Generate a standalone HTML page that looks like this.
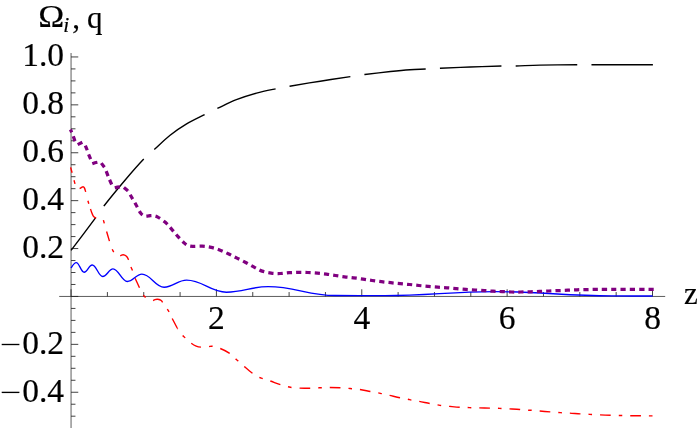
<!DOCTYPE html>
<html><head><meta charset="utf-8"><title>plot</title>
<style>
html,body{margin:0;padding:0;background:#fff;}
body{width:698px;height:428px;overflow:hidden;}
svg{display:block;}
text{font-family:"Liberation Serif",serif;fill:#000;}
</style></head><body>
<svg width="698" height="428" viewBox="0 0 698 428">
<rect width="698" height="428" fill="#fff"/>
<g stroke="#333" stroke-width="0.8" fill="none">
<line x1="71.06" y1="53" x2="71.06" y2="428"/>
<line x1="59.2" y1="296.45" x2="665.2" y2="296.45"/>
</g>
<g stroke="#222" stroke-width="0.85" fill="none"><line x1="71.06" y1="416.20" x2="75.46" y2="416.20"/><line x1="71.06" y1="404.23" x2="75.46" y2="404.23"/><line x1="71.06" y1="392.25" x2="78.26" y2="392.25"/><line x1="71.06" y1="380.27" x2="75.46" y2="380.27"/><line x1="71.06" y1="368.30" x2="75.46" y2="368.30"/><line x1="71.06" y1="356.32" x2="75.46" y2="356.32"/><line x1="71.06" y1="344.35" x2="78.26" y2="344.35"/><line x1="71.06" y1="332.38" x2="75.46" y2="332.38"/><line x1="71.06" y1="320.40" x2="75.46" y2="320.40"/><line x1="71.06" y1="308.43" x2="75.46" y2="308.43"/><line x1="71.06" y1="296.45" x2="78.26" y2="296.45"/><line x1="71.06" y1="284.47" x2="75.46" y2="284.47"/><line x1="71.06" y1="272.50" x2="75.46" y2="272.50"/><line x1="71.06" y1="260.52" x2="75.46" y2="260.52"/><line x1="71.06" y1="248.55" x2="78.26" y2="248.55"/><line x1="71.06" y1="236.57" x2="75.46" y2="236.57"/><line x1="71.06" y1="224.60" x2="75.46" y2="224.60"/><line x1="71.06" y1="212.62" x2="75.46" y2="212.62"/><line x1="71.06" y1="200.65" x2="78.26" y2="200.65"/><line x1="71.06" y1="188.67" x2="75.46" y2="188.67"/><line x1="71.06" y1="176.70" x2="75.46" y2="176.70"/><line x1="71.06" y1="164.72" x2="75.46" y2="164.72"/><line x1="71.06" y1="152.75" x2="78.26" y2="152.75"/><line x1="71.06" y1="140.77" x2="75.46" y2="140.77"/><line x1="71.06" y1="128.80" x2="75.46" y2="128.80"/><line x1="71.06" y1="116.82" x2="75.46" y2="116.82"/><line x1="71.06" y1="104.85" x2="78.26" y2="104.85"/><line x1="71.06" y1="92.87" x2="75.46" y2="92.87"/><line x1="71.06" y1="80.90" x2="75.46" y2="80.90"/><line x1="71.06" y1="68.92" x2="75.46" y2="68.92"/><line x1="71.06" y1="56.95" x2="78.26" y2="56.95"/><line x1="71.06" y1="296.45" x2="71.06" y2="289.25"/><line x1="107.40" y1="296.45" x2="107.40" y2="292.05"/><line x1="143.74" y1="296.45" x2="143.74" y2="292.05"/><line x1="180.08" y1="296.45" x2="180.08" y2="292.05"/><line x1="216.42" y1="296.45" x2="216.42" y2="289.25"/><line x1="252.76" y1="296.45" x2="252.76" y2="292.05"/><line x1="289.10" y1="296.45" x2="289.10" y2="292.05"/><line x1="325.44" y1="296.45" x2="325.44" y2="292.05"/><line x1="361.78" y1="296.45" x2="361.78" y2="289.25"/><line x1="398.12" y1="296.45" x2="398.12" y2="292.05"/><line x1="434.46" y1="296.45" x2="434.46" y2="292.05"/><line x1="470.80" y1="296.45" x2="470.80" y2="292.05"/><line x1="507.14" y1="296.45" x2="507.14" y2="289.25"/><line x1="543.48" y1="296.45" x2="543.48" y2="292.05"/><line x1="579.82" y1="296.45" x2="579.82" y2="292.05"/><line x1="616.16" y1="296.45" x2="616.16" y2="292.05"/><line x1="652.50" y1="296.45" x2="652.50" y2="289.25"/></g>
<path d="M71.06 250.40 C75.17 244.95 90.16 225.18 95.70 217.70 C101.24 210.22 99.38 211.78 104.30 205.50 C109.22 199.22 118.60 187.77 125.20 180.00 C131.80 172.23 139.02 164.02 143.90 158.90 C148.78 153.78 150.13 153.23 154.50 149.30 C158.87 145.37 164.82 139.48 170.10 135.30 C175.38 131.12 180.43 127.65 186.20 124.20 C191.97 120.75 199.42 117.27 204.70 114.60 C209.98 111.93 212.62 110.68 217.90 108.20 C223.18 105.72 229.97 102.22 236.40 99.70 C242.83 97.18 249.87 94.93 256.50 93.10 C263.13 91.27 270.67 89.85 276.20 88.70 C281.73 87.55 282.37 87.45 289.70 86.20 C297.03 84.95 310.03 82.80 320.20 81.20 C330.37 79.60 343.27 77.72 350.70 76.60 C358.13 75.48 358.17 75.35 364.80 74.50 C371.43 73.65 382.97 72.30 390.50 71.50 C398.03 70.70 404.07 70.12 410.00 69.70 C415.93 69.28 421.07 69.25 426.10 69.00 C431.13 68.75 432.83 68.53 440.20 68.20 C447.57 67.87 460.10 67.37 470.30 67.00 C480.50 66.63 493.80 66.17 501.40 66.00 C509.00 65.83 509.47 66.15 515.90 66.00 C522.33 65.85 529.72 65.32 540.00 65.10 C550.28 64.88 569.05 64.77 577.60 64.70 C586.15 64.63 578.75 64.70 591.30 64.70 C603.85 64.70 642.63 64.70 652.90 64.70" fill="none" stroke="#000" stroke-width="1.4" stroke-dasharray="61.5 14.3" stroke-dashoffset="20.5"/>
<path d="M177.20 328.30 C178.07 329.45 181.08 333.63 182.40 335.20 C183.72 336.77 183.65 336.38 185.10 337.70 C186.55 339.02 189.25 341.70 191.10 343.10 C192.95 344.50 194.52 345.43 196.20 346.10 C197.88 346.77 199.20 347.00 201.20 347.10 C203.20 347.20 206.30 346.83 208.20 346.70 C210.10 346.57 210.58 346.00 212.60 346.30 C214.62 346.60 217.52 347.37 220.30 348.50 C223.08 349.63 226.80 351.42 229.30 353.10 C231.80 354.78 233.87 357.32 235.30 358.60 C236.73 359.88 236.38 359.47 237.90 360.80 C239.42 362.13 241.98 364.53 244.40 366.60 C246.82 368.67 250.00 371.43 252.40 373.20 C254.80 374.97 257.07 376.30 258.80 377.20 C260.53 378.10 260.92 377.98 262.80 378.60 C264.68 379.22 267.15 379.88 270.10 380.90 C273.05 381.92 277.50 383.73 280.50 384.70 C283.50 385.67 286.18 386.23 288.10 386.70 C290.02 387.17 290.10 387.27 292.00 387.50 C293.90 387.73 296.48 387.97 299.50 388.10 C302.52 388.23 307.00 388.33 310.10 388.30 C313.20 388.27 316.17 388.00 318.10 387.90 C320.03 387.80 319.77 387.77 321.70 387.70 C323.63 387.63 326.62 387.50 329.70 387.50 C332.78 387.50 337.12 387.57 340.20 387.70 C343.28 387.83 346.27 388.13 348.20 388.30 C350.13 388.47 349.87 388.50 351.80 388.70 C353.73 388.90 356.72 389.03 359.80 389.50 C362.88 389.97 367.22 390.93 370.30 391.50 C373.38 392.07 376.37 392.53 378.30 392.90 C380.23 393.27 380.07 393.30 381.90 393.70 C383.73 394.10 386.30 394.63 389.30 395.30 C392.30 395.97 396.78 397.03 399.90 397.70 C403.02 398.37 406.08 398.90 408.00 399.30 C409.92 399.70 409.53 399.75 411.40 400.10 C413.27 400.45 416.15 400.83 419.20 401.40 C422.25 401.97 426.65 402.92 429.70 403.50 C432.75 404.08 435.60 404.57 437.50 404.90 C439.40 405.23 439.17 405.27 441.10 405.50 C443.03 405.73 445.98 406.00 449.10 406.30 C452.22 406.60 456.72 407.10 459.80 407.30 C462.88 407.50 465.70 407.43 467.60 407.50 C469.50 407.57 469.27 407.63 471.20 407.70 C473.13 407.77 476.12 407.83 479.20 407.90 C482.28 407.97 486.62 408.03 489.70 408.10 C492.78 408.17 495.77 408.23 497.70 408.30 C499.63 408.37 499.37 408.40 501.30 408.50 C503.23 408.60 506.20 408.73 509.30 408.90 C512.40 409.07 516.80 409.28 519.90 409.50 C523.00 409.72 525.98 410.07 527.90 410.20 C529.82 410.33 529.47 410.17 531.40 410.30 C533.33 410.43 536.38 410.73 539.50 411.00 C542.62 411.27 547.00 411.65 550.10 411.90 C553.20 412.15 556.17 412.37 558.10 412.50 C560.03 412.63 559.77 412.60 561.70 412.70 C563.63 412.80 566.62 412.90 569.70 413.10 C572.78 413.30 577.12 413.70 580.20 413.90 C583.28 414.10 586.27 414.20 588.20 414.30 C590.13 414.40 589.80 414.40 591.80 414.50 C593.80 414.60 597.05 414.77 600.20 414.90 C603.35 415.03 607.68 415.20 610.70 415.30 C613.72 415.40 616.43 415.47 618.30 415.50 C620.17 415.53 619.97 415.47 621.90 415.50 C623.83 415.53 626.77 415.67 629.90 415.70 C633.03 415.73 637.55 415.67 640.70 415.70 C643.85 415.73 646.83 415.87 648.80 415.90 C650.77 415.93 651.88 415.90 652.50 415.90" fill="none" stroke="#ff0000" stroke-width="1.4" stroke-dasharray="10.65 7.95 3.7 7.95" stroke-dashoffset="9.68"/>
<path d="M70.60 167.40 L72.10 172.80 M74.00 180.20 L75.00 183.90 M79.60 188.50 C79.77 188.43 80.20 188.33 80.60 188.10 C81.00 187.87 81.55 187.32 82.00 187.10 C82.45 186.88 82.88 186.63 83.30 186.80 C83.72 186.97 84.10 187.25 84.50 188.10 C84.90 188.95 85.50 191.27 85.70 191.90 M87.90 200.70 L88.80 203.70 M90.50 209.10 C90.67 209.57 91.03 210.73 91.50 211.90 C91.97 213.07 92.53 215.03 93.30 216.10 C94.07 217.17 95.63 217.93 96.10 218.30 M103.40 220.10 L104.30 223.40 M106.60 231.50 L109.45 241.10 M112.20 249.20 L113.70 252.10 M120.20 255.90 C120.43 255.77 121.12 255.28 121.60 255.10 C122.08 254.92 122.58 254.80 123.10 254.80 C123.62 254.80 124.20 254.90 124.70 255.10 C125.20 255.30 125.63 255.58 126.10 256.00 C126.57 256.42 127.08 256.95 127.50 257.60 C127.92 258.25 128.42 259.52 128.60 259.90 M130.90 267.00 L132.50 270.50 M135.10 278.30 L139.50 287.70 M143.30 295.20 L145.60 297.50 M153.10 300.60 C153.42 300.45 154.33 299.92 155.00 299.70 C155.67 299.48 156.43 299.33 157.10 299.30 C157.77 299.27 158.42 299.35 159.00 299.50 C159.58 299.65 160.15 299.93 160.60 300.20 C161.05 300.47 161.37 300.75 161.70 301.10 C162.03 301.45 162.45 302.10 162.60 302.30 M167.30 309.10 L169.10 311.90 M172.20 318.50 L177.20 328.00 " fill="none" stroke="#ff0000" stroke-width="1.4"/>
<path d="M71.06 268.0 C72.6 265.6 74.2 262.6 76.2 262.6 C79.36 262.60 80.94 272.20 84.10 272.20 C87.34 272.20 88.96 265.00 92.20 265.00 C96.40 265.00 98.50 276.50 102.70 276.50 C106.82 276.50 108.88 268.90 113.00 268.90 C118.72 268.90 121.58 281.50 127.30 281.50 C133.14 281.50 136.06 274.10 141.90 274.10 C150.78 274.10 155.22 287.20 164.10 287.20 C173.10 287.20 177.60 280.10 186.60 280.10 C202.52 280.10 210.48 292.20 226.40 292.20 C243.12 292.20 251.48 286.60 268.20 286.60 C294.92 286.60 308.28 295.50 335.00 295.50 C355.00 295.50 365.00 295.60 385.00 295.60 C428.64 295.60 450.46 291.60 494.10 291.60 C541.26 291.60 564.84 295.90 612.00 295.90 C628.24 295.90 636.36 296.00 652.60 296.00" fill="none" stroke="#0000ff" stroke-width="1.35"/>
<path d="M70.45 129.50 L71.70 132.30M73.29 136.19 L74.95 141.13M77.68 144.60 L82.34 142.30M85.33 145.63 L87.25 150.25M88.60 154.40 L90.63 159.20M92.30 163.68 L94.90 162.75 L97.39 162.22M101.32 163.12 L104.43 167.28M106.20 171.20 L108.08 176.10M109.56 179.78 L111.70 184.52M114.80 187.90 L117.40 187.20 L119.90 186.80M123.90 187.40 L127.90 190.75" fill="none" stroke="#800080" stroke-width="3.25"/>
<path d="M127.90 190.75 C128.18 191.24 129.00 192.66 129.60 193.70 C130.20 194.74 130.43 195.17 131.50 197.00 C132.57 198.83 134.48 202.02 136.00 204.70 C137.52 207.38 139.18 211.22 140.60 213.10 C142.02 214.98 143.15 215.53 144.50 216.00 C145.85 216.47 147.37 215.97 148.70 215.90 C150.03 215.83 150.98 215.40 152.50 215.60 C154.02 215.80 155.62 215.93 157.80 217.10 C159.98 218.27 163.27 220.57 165.60 222.60 C167.93 224.63 169.77 227.00 171.80 229.30 C173.83 231.60 175.75 234.13 177.80 236.40 C179.85 238.67 182.40 241.38 184.10 242.90 C185.80 244.42 186.57 244.93 188.00 245.50 C189.43 246.07 190.33 246.18 192.70 246.30 C195.07 246.42 199.12 246.02 202.20 246.20 C205.28 246.38 208.20 246.73 211.20 247.40 C214.20 248.07 217.27 249.10 220.20 250.20 C223.13 251.30 226.00 252.68 228.80 254.00 C231.60 255.32 234.18 256.68 237.00 258.10 C239.82 259.52 242.85 261.00 245.70 262.50 C248.55 264.00 251.37 265.67 254.10 267.10 C256.83 268.53 259.25 270.10 262.10 271.10 C264.95 272.10 268.18 272.70 271.20 273.10 C274.22 273.50 277.20 273.57 280.20 273.50 C283.20 273.43 286.18 272.90 289.20 272.70 C292.22 272.50 295.18 272.33 298.30 272.30 C301.42 272.27 304.72 272.37 307.90 272.50 C311.08 272.63 314.32 272.83 317.40 273.10 C320.48 273.37 323.40 273.70 326.40 274.10 C329.40 274.50 332.38 275.05 335.40 275.50 C338.42 275.95 341.48 276.42 344.50 276.80 C347.52 277.18 350.40 277.42 353.50 277.80 C356.60 278.18 360.00 278.65 363.10 279.10 C366.20 279.55 369.03 280.07 372.10 280.50 C375.17 280.93 378.38 281.33 381.50 281.70 C384.62 282.07 387.68 282.37 390.80 282.70 C393.92 283.03 397.05 283.40 400.20 283.70 C403.35 284.00 406.58 284.20 409.70 284.50 C412.82 284.80 415.80 285.18 418.90 285.50 C422.00 285.82 425.15 286.12 428.30 286.40 C431.45 286.68 434.68 286.97 437.80 287.20 C440.92 287.43 443.90 287.57 447.00 287.80 C450.10 288.03 453.25 288.33 456.40 288.60 C459.55 288.87 462.78 289.17 465.90 289.40 C469.02 289.63 472.02 289.80 475.10 290.00 C478.18 290.20 481.40 290.40 484.40 290.60 C487.40 290.80 490.15 291.03 493.10 291.20 C496.05 291.37 499.02 291.47 502.10 291.60 C505.18 291.73 508.48 291.93 511.60 292.00 C514.72 292.07 517.68 292.03 520.80 292.00 C523.92 291.97 527.15 291.90 530.30 291.80 C533.45 291.70 536.60 291.53 539.70 291.40 C542.80 291.27 545.78 291.13 548.90 291.00 C552.02 290.87 555.25 290.73 558.40 290.60 C561.55 290.47 564.70 290.33 567.80 290.20 C570.90 290.07 573.88 289.90 577.00 289.80 C580.12 289.70 583.42 289.67 586.50 289.60 C589.58 289.53 592.42 289.43 595.50 289.40 C598.58 289.37 600.92 289.40 605.00 289.40 C609.08 289.40 611.83 289.38 620.00 289.40 C628.17 289.42 648.33 289.48 654.00 289.50" fill="none" stroke="#800080" stroke-width="3.25" stroke-dasharray="5.2 4.1" stroke-dashoffset="4.7"/>
<g style="filter:grayscale(1)" stroke="#000" stroke-width="0.18">
<g font-size="31px">
<text transform="translate(38.2 27.3) scale(1.13 1.03)" x="0" y="0">Ω</text>
<text x="63.2" y="32.2" font-size="21.5px" font-style="italic">i</text>
<text x="72.2" y="28.1">,</text>
<text x="87" y="28.1">q</text>
<text x="684" y="303.7">z</text>
</g>
<g font-size="33.5px">
<text x="64.1" y="66.25" text-anchor="end">1.0</text>
<text x="64.1" y="114.15" text-anchor="end">0.8</text>
<text x="64.1" y="162.05" text-anchor="end">0.6</text>
<text x="64.1" y="209.95" text-anchor="end">0.4</text>
<text x="64.1" y="257.85" text-anchor="end">0.2</text>
<text x="64.1" y="353.65" text-anchor="end">0.2</text>
<line x1="1.7" y1="344.50" x2="19.4" y2="344.50" stroke="#000" stroke-width="1.35"/>
<text x="64.1" y="401.55" text-anchor="end">0.4</text>
<line x1="1.7" y1="392.40" x2="19.4" y2="392.40" stroke="#000" stroke-width="1.35"/>

<text x="216.4" y="329.4" text-anchor="middle">2</text>
<text x="361.8" y="329.4" text-anchor="middle">4</text>
<text x="507.1" y="329.4" text-anchor="middle">6</text>
<text x="652.5" y="329.4" text-anchor="middle">8</text>
</g>
</g>
</svg>
</body></html>
